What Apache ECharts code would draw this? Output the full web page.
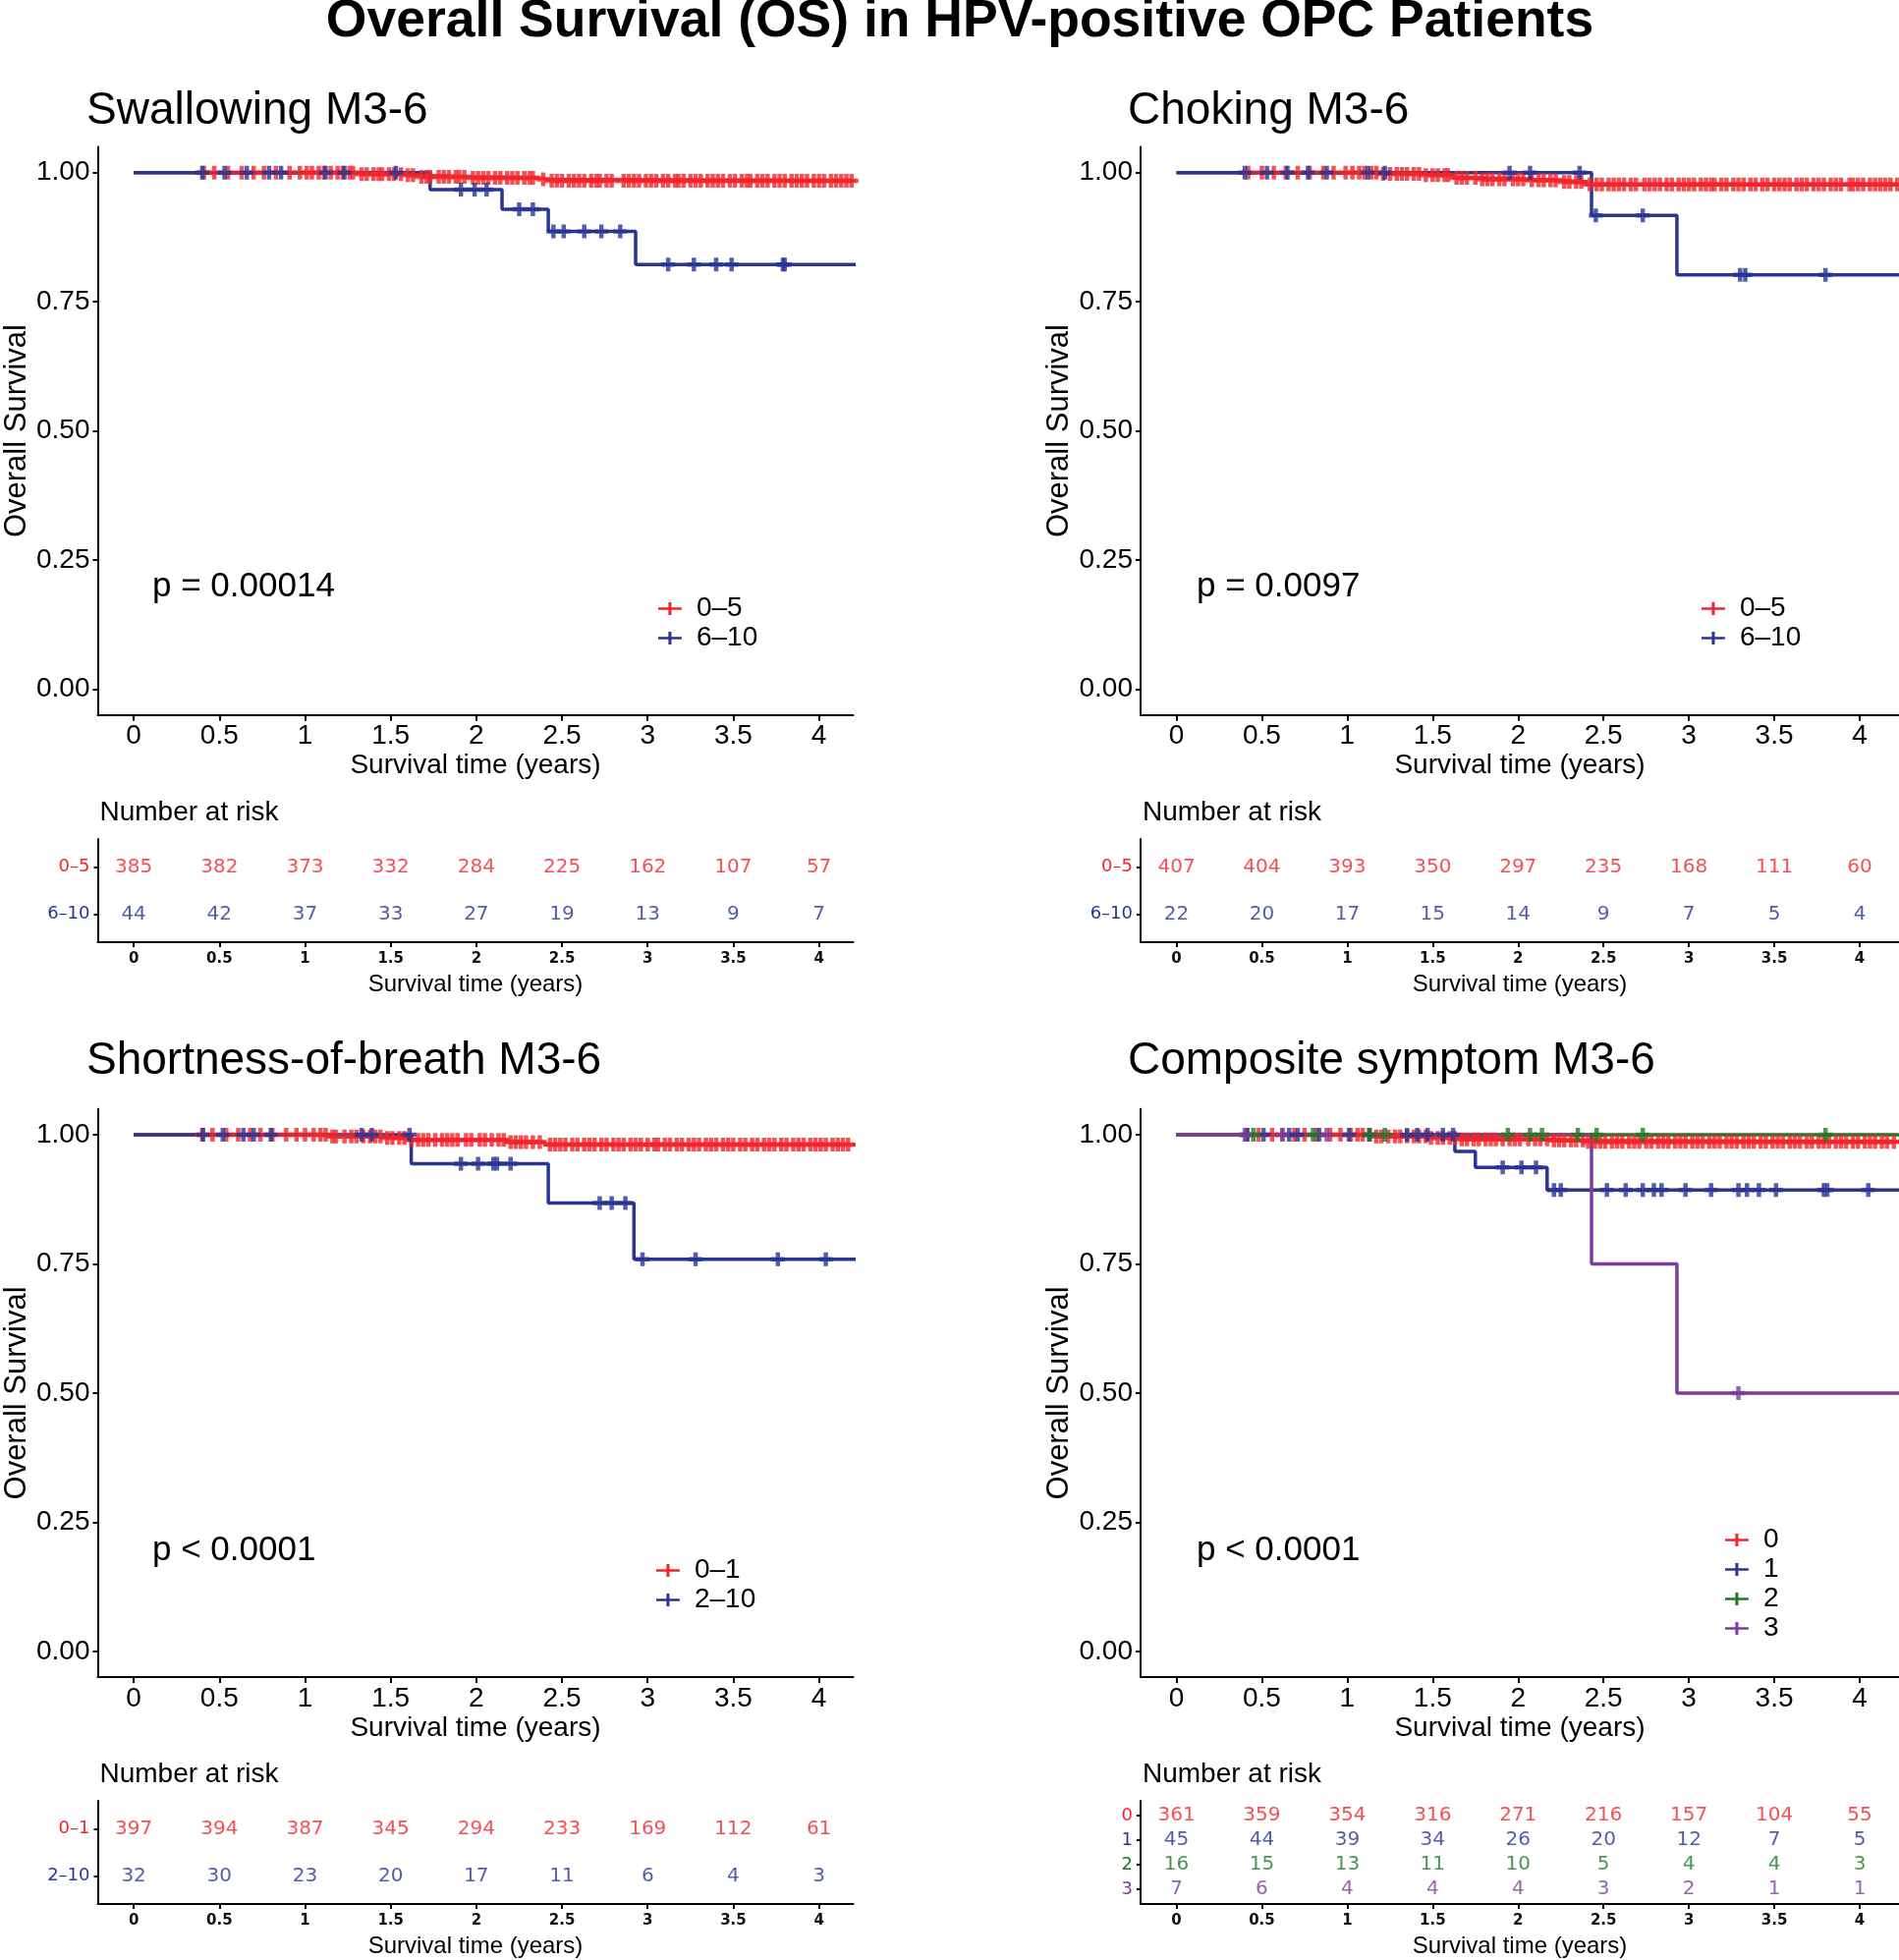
<!DOCTYPE html>
<html><head><meta charset="utf-8">
<script src="https://cdn.jsdelivr.net/npm/echarts@6/dist/echarts.min.js"></script>
<style>html,body{margin:0;padding:0;background:#fff}#c{width:1933px;height:1995px}</style>
</head><body><div id="c"></div>
<script>
// ---------------- DATA ----------------
const mainTitle = 'Overall Survival (OS) in HPV-positive OPC Patients';
const timeTicks = [0, 0.5, 1, 1.5, 2, 2.5, 3, 3.5, 4];
const survTicks = [0, 0.25, 0.5, 0.75, 1];
const followUpEnd = 4.25;

// Panel 1: Swallowing M3-6
const swallowTitle = 'Swallowing M3-6';
const swallowP = 'p = 0.00014';
const swallowNames = ['0–5', '6–10'];
const swallowLowTimes = [0, 1.30, 1.58, 1.66, 1.95, 2.36, 2.41];
const swallowLowSurv = [1, 0.997, 0.995, 0.992, 0.990, 0.987, 0.984];
const swallowLowCensor = [0.41,0.47,0.55,0.63,0.70,0.76,0.83,0.91,0.97,1.01,1.04,1.08,1.11,1.15,1.19,1.22,1.26,1.28,1.33,1.36,1.40,1.43,1.45,1.49,1.52,1.56,1.60,1.63,1.68,1.71,1.73,1.78,1.81,1.84,1.88,1.90,1.93,1.98,2.01,2.04,2.07,2.11,2.14,2.18,2.21,2.24,2.28,2.31,2.33,2.39,2.44,2.47,2.50,2.54,2.57,2.60,2.63,2.67,2.70,2.72,2.76,2.79,2.86,2.89,2.92,2.95,2.99,3.02,3.05,3.09,3.12,3.16,3.18,3.21,3.25,3.28,3.31,3.35,3.38,3.41,3.44,3.48,3.51,3.55,3.58,3.60,3.64,3.67,3.70,3.74,3.77,3.80,3.84,3.87,3.90,3.93,3.97,4.00,4.03,4.07,4.10,4.13,4.16,4.19];
const swallowHighTimes = [0, 1.73, 2.15, 2.42, 2.93];
const swallowHighSurv = [1, 0.967, 0.929, 0.886, 0.822];
const swallowHighCensor = [0.40,0.53,0.66,0.79,0.86,1.12,1.23,1.53,1.91,1.99,2.06,2.25,2.33,2.45,2.51,2.63,2.73,2.84,3.12,3.27,3.40,3.49,3.79,3.80];
const swallowRiskLow = [385, 382, 373, 332, 284, 225, 162, 107, 57];
const swallowRiskHigh = [44, 42, 37, 33, 27, 19, 13, 9, 7];

// Panel 2: Choking M3-6
const chokeTitle = 'Choking M3-6';
const chokeP = 'p = 0.0097';
const chokeNames = ['0–5', '6–10'];
const chokeLowTimes = [0, 1.20, 1.45, 1.62, 1.78, 2.05, 2.25, 2.40];
const chokeLowSurv = [1, 0.9975, 0.995, 0.990, 0.987, 0.985, 0.982, 0.977];
const chokeLowCensor = [0.42,0.50,0.57,0.64,0.71,0.78,0.86,0.92,0.99,1.03,1.07,1.10,1.14,1.17,1.21,1.25,1.29,1.32,1.35,1.39,1.42,1.46,1.50,1.53,1.57,1.59,1.64,1.67,1.70,1.75,1.79,1.82,1.85,1.89,1.92,1.97,2.00,2.03,2.08,2.12,2.15,2.19,2.22,2.27,2.30,2.34,2.37,2.42,2.46,2.49,2.53,2.56,2.59,2.62,2.66,2.69,2.74,2.77,2.80,2.83,2.87,2.90,2.94,2.97,3.00,3.03,3.07,3.10,3.13,3.15,3.19,3.22,3.26,3.29,3.32,3.36,3.39,3.43,3.46,3.50,3.53,3.56,3.59,3.63,3.66,3.69,3.73,3.76,3.79,3.83,3.86,3.89,3.94,3.96,3.99,4.02,4.06,4.09,4.12,4.15,4.18,4.22];
const chokeHighTimes = [0, 2.43, 2.93];
const chokeHighSurv = [1, 0.917, 0.802];
const chokeHighCensor = [0.40,0.53,0.65,0.77,0.88,1.12,1.22,1.95,2.07,2.36,2.455,2.73,3.30,3.33,3.80];
const chokeRiskLow = [407, 404, 393, 350, 297, 235, 168, 111, 60];
const chokeRiskHigh = [22, 20, 17, 15, 14, 9, 7, 5, 4];

// Panel 3: Shortness-of-breath M3-6
const breathTitle = 'Shortness-of-breath M3-6';
const breathP = 'p < 0.0001';
const breathNames = ['0–1', '2–10'];
const breathLowTimes = [0, 1.13, 1.45, 1.62, 2.18, 2.40];
const breathLowSurv = [1, 0.997, 0.994, 0.990, 0.986, 0.981];
const breathLowCensor = [0.40,0.46,0.54,0.61,0.68,0.74,0.81,0.89,0.95,1.00,1.05,1.09,1.12,1.16,1.18,1.23,1.27,1.30,1.34,1.38,1.41,1.44,1.48,1.51,1.55,1.58,1.62,1.66,1.69,1.72,1.76,1.80,1.83,1.86,1.89,1.94,1.97,2.02,2.05,2.09,2.13,2.16,2.20,2.23,2.26,2.29,2.33,2.37,2.43,2.46,2.49,2.52,2.56,2.59,2.63,2.66,2.69,2.73,2.76,2.80,2.83,2.86,2.90,2.93,2.96,3.00,3.04,3.06,3.10,3.13,3.17,3.20,3.24,3.27,3.30,3.34,3.37,3.40,3.44,3.47,3.50,3.54,3.57,3.61,3.64,3.68,3.71,3.74,3.78,3.81,3.85,3.88,3.91,3.95,3.98,4.01,4.04,4.08,4.11,4.14,4.17];
const breathHighTimes = [0, 1.62, 2.42, 2.92];
const breathHighSurv = [1, 0.944, 0.868, 0.759];
const breathHighCensor = [0.405,0.52,0.64,0.70,0.80,1.33,1.39,1.61,1.91,2.01,2.10,2.12,2.20,2.72,2.79,2.87,2.97,3.28,3.76,4.04];
const breathRiskLow = [397, 394, 387, 345, 294, 233, 169, 112, 61];
const breathRiskHigh = [32, 30, 23, 20, 17, 11, 6, 4, 3];

// Panel 4: Composite symptom M3-6
const compTitle = 'Composite symptom M3-6';
const compP = 'p < 0.0001';
const compNames = ['0', '1', '2', '3'];
const comp0Times = [0, 1.15, 1.48, 1.64, 2.20, 2.39];
const comp0Surv = [1, 0.997, 0.994, 0.991, 0.989, 0.9865];
const comp0Censor = [0.41,0.48,0.56,0.62,0.69,0.75,0.82,0.90,0.96,1.02,1.06,1.09,1.13,1.17,1.20,1.24,1.28,1.31,1.35,1.39,1.42,1.46,1.49,1.53,1.56,1.60,1.63,1.67,1.70,1.74,1.77,1.81,1.84,1.87,1.91,1.95,1.98,2.01,2.06,2.10,2.13,2.17,2.21,2.24,2.27,2.31,2.34,2.38,2.41,2.45,2.48,2.51,2.55,2.58,2.61,2.65,2.68,2.71,2.75,2.78,2.82,2.85,2.88,2.92,2.95,2.98,3.02,3.05,3.08,3.12,3.15,3.18,3.22,3.25,3.28,3.32,3.35,3.38,3.42,3.45,3.49,3.52,3.55,3.59,3.62,3.65,3.69,3.72,3.76,3.79,3.82,3.86,3.89,3.92,3.96,3.99,4.03,4.06,4.09,4.13,4.16,4.20];
const comp1Times = [0, 1.63, 1.75, 2.17];
const comp1Surv = [1, 0.968, 0.937, 0.893];
const comp1Censor = [0.415,0.51,0.66,0.71,0.835,1.01,1.13,1.35,1.41,1.47,1.56,1.62,1.91,2.02,2.105,2.21,2.25,2.52,2.63,2.73,2.795,2.84,2.98,3.13,3.29,3.34,3.41,3.51,3.79,3.81,4.05];
const comp2Times = [0];
const comp2Surv = [1];
const comp2Censor = [0.45,0.80,1.13,1.22,1.94,2.07,2.14,2.35,2.46,2.73,3.80];
const comp3Times = [0, 2.43, 2.93];
const comp3Surv = [1, 0.75, 0.5];
const comp3Censor = [0.40, 0.62, 0.88, 3.29];
const compRisk0 = [361, 359, 354, 316, 271, 216, 157, 104, 55];
const compRisk1 = [45, 44, 39, 34, 26, 20, 12, 7, 5];
const compRisk2 = [16, 15, 13, 11, 10, 5, 4, 4, 3];
const compRisk3 = [7, 6, 4, 4, 4, 3, 2, 1, 1];

// ---------------- STYLE ----------------
const RED = '#f2242b', BLUE = '#283593', GREEN = '#1e7a25', PURPLE = '#7b3d99';
const FONT = '"Liberation Sans", Arial, sans-serif';
const TFONT = '"DejaVu Sans", sans-serif';
const plusPath = 'path://M3.4,0H6.6V3.4H10V6.6H6.6V10H3.4V6.6H0V3.4H3.4Z';
const legendIcon = 'path://M0,4.8H9.6V0H12.4V4.8H22V7.2H12.4V12H9.6V7.2H0Z';

const cols = [{left: 99.5, width: 769, max: 4.2, titleX: 88, pX: 155},
              {left: 1161, width: 772, max: 4.23, titleX: 1148, pX: 1218}];
const rows = [{mainTop: 149.4, tableTop: 854, titleY: 113, pY: 597, riskLabelY: 827},
              {mainTop: 1128.8, tableTop: 1833, titleY: 1080.5, pY: 1578, riskLabelY: 1806.7}];
const MAIN_H = 578.3, TABLE_H = 105;

const panels = [
  {title: swallowTitle, p: swallowP, col: 0, row: 0, legend: {left: 665, top: 600},
   groups: [
    {name: swallowNames[0], color: RED, times: swallowLowTimes, surv: swallowLowSurv, censor: swallowLowCensor, risk: swallowRiskLow},
    {name: swallowNames[1], color: BLUE, times: swallowHighTimes, surv: swallowHighSurv, censor: swallowHighCensor, risk: swallowRiskHigh}]},
  {title: chokeTitle, p: chokeP, col: 1, row: 0, legend: {left: 1727, top: 600},
   groups: [
    {name: chokeNames[0], color: RED, times: chokeLowTimes, surv: chokeLowSurv, censor: chokeLowCensor, risk: chokeRiskLow},
    {name: chokeNames[1], color: BLUE, times: chokeHighTimes, surv: chokeHighSurv, censor: chokeHighCensor, risk: chokeRiskHigh}]},
  {title: breathTitle, p: breathP, col: 0, row: 1, legend: {left: 663, top: 1579},
   groups: [
    {name: breathNames[0], color: RED, times: breathLowTimes, surv: breathLowSurv, censor: breathLowCensor, risk: breathRiskLow},
    {name: breathNames[1], color: BLUE, times: breathHighTimes, surv: breathHighSurv, censor: breathHighCensor, risk: breathRiskHigh}]},
  {title: compTitle, p: compP, col: 1, row: 1, legend: {left: 1751, top: 1548},
   groups: [
    {name: compNames[0], color: RED, times: comp0Times, surv: comp0Surv, censor: comp0Censor, risk: compRisk0},
    {name: compNames[1], color: BLUE, times: comp1Times, surv: comp1Surv, censor: comp1Censor, risk: compRisk1},
    {name: compNames[2], color: GREEN, times: comp2Times, surv: comp2Surv, censor: comp2Censor, risk: compRisk2},
    {name: compNames[3], color: PURPLE, times: comp3Times, surv: comp3Surv, censor: comp3Censor, risk: compRisk3}]}
];

function survAt(times, surv, t) {
  let v = surv[0];
  for (let i = 0; i < times.length; i++) { if (times[i] <= t) v = surv[i]; }
  return v;
}
function stepData(times, surv) {
  const d = times.map((t, i) => [t, surv[i]]);
  d.push([followUpEnd, surv[surv.length - 1]]);
  return d;
}

const grid = [], xAxis = [], yAxis = [], series = [], legend = [], graphic = [];
graphic.push({type: 'text', x: 977, y: 22, style: {text: mainTitle, font: 'bold 53.5px ' + FONT, fill: '#000', textAlign: 'center', textVerticalAlign: 'middle'}});

const axisLineStyle = {show: true, onZero: false, lineStyle: {color: '#000', width: 2}};

panels.forEach((p, pi) => {
  const c = cols[p.col], r = rows[p.row];
  const gMain = grid.length;
  grid.push({left: c.left, top: r.mainTop, width: c.width, height: MAIN_H, containLabel: false, outerBoundsMode: 'none'});
  const gTab = grid.length;
  grid.push({left: c.left, top: r.tableTop, width: c.width, height: TABLE_H, containLabel: false, outerBoundsMode: 'none'});
  xAxis.push({type: 'value', gridIndex: gMain, min: -0.21, max: c.max,
    axisLine: axisLineStyle, splitLine: {show: false},
    axisTick: {show: true, customValues: timeTicks, length: 6, lineStyle: {color: '#000', width: 2}},
    axisLabel: {customValues: timeTicks, margin: 8, fontFamily: FONT, fontSize: 28, color: '#000', formatter: v => String(v)},
    name: 'Survival time (years)', nameLocation: 'middle', nameGap: 38,
    nameTextStyle: {fontFamily: FONT, fontSize: 28, color: '#000'}});
  yAxis.push({type: 'value', gridIndex: gMain, min: -0.05, max: 1.05,
    axisLine: axisLineStyle, splitLine: {show: false},
    axisTick: {show: true, customValues: survTicks, length: 5, lineStyle: {color: '#000', width: 2}},
    axisLabel: {customValues: survTicks, margin: 8, fontFamily: FONT, fontSize: 28, color: '#000', formatter: v => v.toFixed(2)},
    name: 'Overall Survival', nameLocation: 'middle', nameGap: 67,
    nameTextStyle: {fontFamily: FONT, fontSize: 31, color: '#000'}});
  const nG = p.groups.length;
  const rowVals = p.groups.map((g, i) => i + 1);
  const rich = {};
  p.groups.forEach((g, i) => { rich['c' + i] = {color: g.color, fontFamily: TFONT, fontSize: 18}; });
  xAxis.push({type: 'value', gridIndex: gTab, min: -0.21, max: c.max,
    axisLine: axisLineStyle, splitLine: {show: false},
    axisTick: {show: true, customValues: timeTicks, length: 5, lineStyle: {color: '#000', width: 2}},
    axisLabel: {customValues: timeTicks, margin: 10, fontFamily: TFONT, fontSize: 15, fontWeight: 'bold', color: '#111', formatter: v => String(v)},
    name: 'Survival time (years)', nameLocation: 'middle', nameGap: 31,
    nameTextStyle: {fontFamily: FONT, fontSize: 24, color: '#000'}});
  yAxis.push({type: 'value', gridIndex: gTab, min: 0.4, max: nG + 0.6, inverse: true,
    axisLine: axisLineStyle, splitLine: {show: false},
    axisTick: {show: true, customValues: rowVals, length: 4, lineStyle: {color: '#000', width: 2}},
    axisLabel: {customValues: rowVals, margin: 8, rich: rich,
      formatter: v => { const i = Math.round(v) - 1; return '{c' + i + '|' + p.groups[i].name + '}'; }}});
  const xMain = xAxis.length - 2, yMain = yAxis.length - 2, xTab = xAxis.length - 1, yTab = yAxis.length - 1;
  p.groups.forEach(g => {
    series.push({type: 'line', name: g.name, xAxisIndex: xMain, yAxisIndex: yMain, step: 'end',
      data: stepData(g.times, g.surv), showSymbol: false, symbol: 'none', clip: true, silent: true,
      lineStyle: {color: g.color, width: 3.5}, itemStyle: {color: g.color}, z: 2});
  });
  p.groups.forEach(g => {
    series.push({type: 'scatter', name: g.name, xAxisIndex: xMain, yAxisIndex: yMain,
      data: g.censor.map(t => [t, survAt(g.times, g.surv, t)]), symbol: plusPath, symbolSize: 14,
      clip: true, silent: true, itemStyle: {color: g.color}, z: 3});
  });
  p.groups.forEach((g, i) => {
    series.push({type: 'scatter', name: g.name + ' ', xAxisIndex: xTab, yAxisIndex: yTab, silent: true,
      data: timeTicks.map((t, k) => [t, i + 1, g.risk[k]]), symbolSize: 2, itemStyle: {color: 'rgba(255,255,255,0)'},
      label: {show: true, position: 'inside', formatter: q => String(q.value[2]), color: g.color, fontFamily: TFONT, fontSize: 20}, z: 5});
  });
  legend.push({data: p.groups.map(g => g.name), left: p.legend.left, top: p.legend.top, orient: 'vertical',
    icon: legendIcon, itemWidth: 24, itemHeight: 13, itemGap: 1, selectedMode: false,
    textStyle: {fontFamily: FONT, fontSize: 28, color: '#000', lineHeight: 29, padding: [0, 0, 0, 10]}});
  graphic.push({type: 'text', x: c.titleX, y: r.titleY, style: {text: p.title, font: '46px ' + FONT, fill: '#000', textAlign: 'left', textVerticalAlign: 'middle'}});
  graphic.push({type: 'text', x: c.pX, y: r.pY, style: {text: p.p, font: '35px ' + FONT, fill: '#000', textAlign: 'left', textVerticalAlign: 'middle'}});
  graphic.push({type: 'text', x: c.left + 2, y: r.riskLabelY, style: {text: 'Number at risk', font: '28px ' + FONT, fill: '#000', textAlign: 'left', textVerticalAlign: 'middle'}});
});

const chart = echarts.init(document.getElementById('c'), null, {renderer: 'canvas'});
chart.setOption({animation: false, backgroundColor: '#fff', grid, xAxis, yAxis, series, legend, graphic, tooltip: {show: false}});
</script></body></html>
